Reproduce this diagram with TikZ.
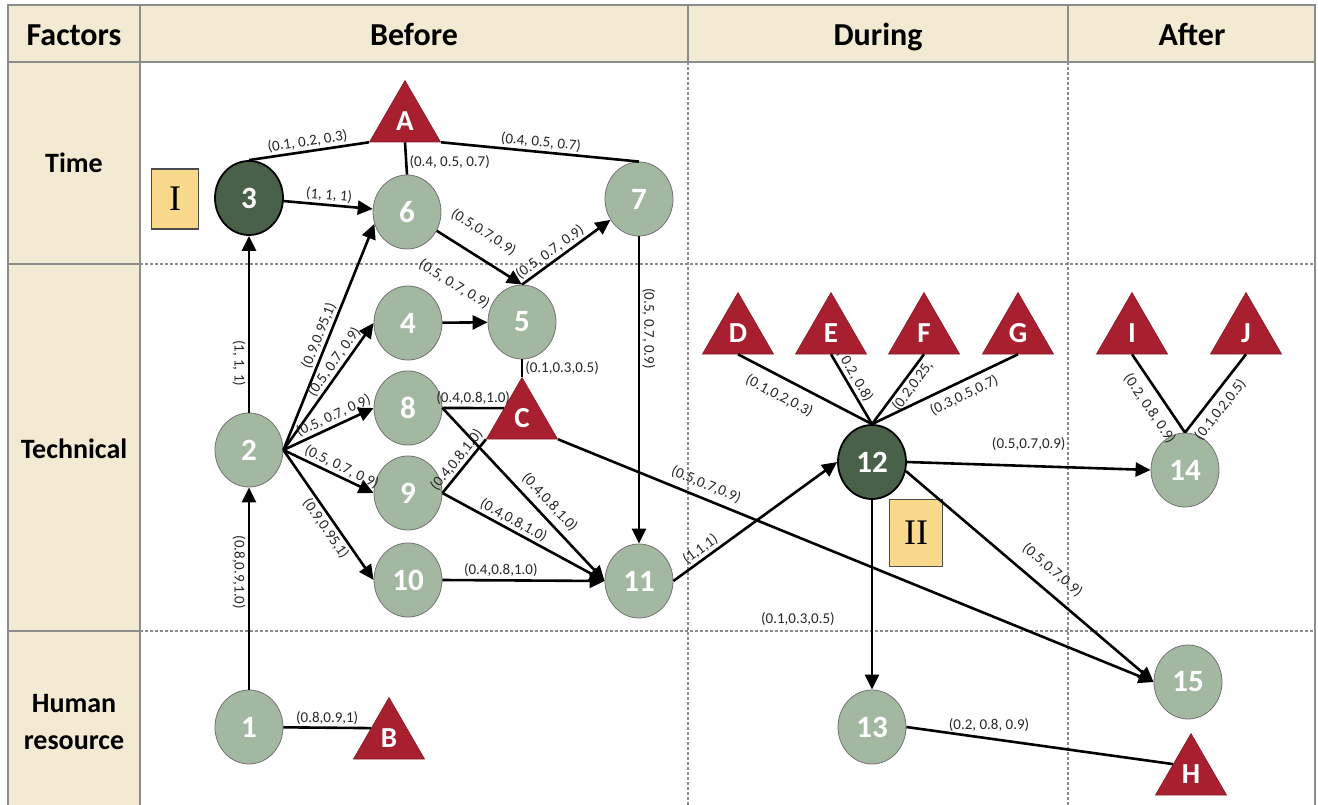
\documentclass[tikz,border=0pt]{standalone}
\usepackage{fontspec}
\setmainfont{Carlito}
\newfontfamily\romanfont{Liberation Serif}
\usepackage{tikz}
\usetikzlibrary{shapes.geometric}
\usetikzlibrary{arrows.meta}
\usetikzlibrary{calc}

\definecolor{headfill}{RGB}{243,234,211}
\definecolor{gridgray}{RGB}{140,140,140}
\definecolor{lightnode}{RGB}{163,184,161}
\definecolor{darknode}{RGB}{74,97,73}
\definecolor{riskred}{RGB}{168,32,48}
\definecolor{boxyellow}{RGB}{249,217,139}

\tikzset{
	event/.style={ellipse, fill=lightnode, draw=black!55, line width=0.8pt, minimum width=68pt, minimum height=74pt, inner sep=0pt, text=white, font=\fontsize{31}{33}\selectfont\bfseries},
	keyevent/.style={event, fill=darknode, draw=black, line width=1.8pt},
	risk/.style={regular polygon, regular polygon sides=3, minimum size=82pt, inner sep=0pt, fill=riskred, draw=riskred!80!black, line width=0.6pt, text=white, font=\fontsize{29}{31}\selectfont\bfseries},
	phasebox/.style={rectangle, fill=boxyellow, draw=black!70, line width=1.2pt, inner sep=0pt, font=\romanfont\fontsize{36}{36}\selectfont},
	link/.style={line width=2.6pt},
	arr/.style={link, -{Triangle[length=15pt, width=14pt]}},
	lbl/.style={font=\fontsize{15}{17}\selectfont, text=black!85, inner sep=2pt},
	cutline/.style={gridgray, line width=1.3pt, dash pattern=on 3pt off 2pt},
	frame/.style={gridgray, line width=1.6pt},
	head/.style={anchor=base, font=\fontsize{32}{34}\selectfont\bfseries},
	rowhead/.style={font=\fontsize{28}{37}\selectfont\bfseries, align=center}
}

\begin{document}
\begin{tikzpicture}[x=1pt, y=-1pt]
	\useasboundingbox (0,0) rectangle (1318,805);
	\fill [headfill] (8,5) rectangle (1315,62);
	\fill [headfill] (8,62) rectangle (140,805);
	\draw [cutline] (140,264) -- (1315,264);
	\draw [cutline] (140,631) -- (1315,631);
	\draw [cutline] (688,62) -- (688,805);
	\draw [cutline] (1068,62) -- (1068,805);
	\draw [frame] (8,805) -- (8,5) -- (1315,5) -- (1315,805);
	\draw [frame] (8,62) -- (1315,62);
	\draw [frame] (140,5) -- (140,805);
	\draw [frame] (688,5) -- (688,62);
	\draw [frame] (1068,5) -- (1068,62);
	\draw [frame] (8,264) -- (140,264);
	\draw [frame] (8,631) -- (140,631);

	\node [head] (hfac) at (74,46) {Factors};
	\node [head] (hbef) at (414,46) {Before};
	\node [head] (hdur) at (878,46) {During};
	\node [head] (haft) at (1192,46) {After};
	\node [rowhead] (rtime) at (74,163) {Time};
	\node [rowhead] (rtech) at (74,449) {Technical};
	\node [rowhead] (rhum) at (74,722) {Human\\resource};

	\node [phasebox, minimum width=47pt, minimum height=60pt] (p1) at (175,199) {I};
	\node [phasebox, minimum width=53pt, minimum height=67pt] (p2) at (916,533) {II};

	\node [keyevent] (n3) at (249,198) {3};
	\node [event] (n6) at (407,212) {6};
	\node [event] (n7) at (639,199) {7};
	\node [event] (n4) at (408,323) {4};
	\node [event] (n5) at (522,322) {5};
	\node [event] (n8) at (408,408) {8};
	\node [event] (n9) at (408,493) {9};
	\node [event] (n10) at (408,580) {10};
	\node [event] (n11) at (639,581) {11};
	\node [event] (n2) at (249,450) {2};
	\node [event] (n1) at (249,727) {1};
	\node [keyevent] (n12) at (872,462) {12};
	\node [event] (n13) at (872,727) {13};
	\node [event] (n14) at (1185,470) {14};
	\node [event] (n15) at (1188,682) {15};

	\node [risk] (rA) at (405,121.5) {A};
	\node [risk] (rB) at (389,738.5) {B};
	\node [risk] (rC) at (522,418.5) {C};
	\node [risk] (rD) at (738,333.5) {D};
	\node [risk] (rE) at (831,333.5) {E};
	\node [risk] (rF) at (924,333.5) {F};
	\node [risk] (rG) at (1018,333.5) {G};
	\node [risk] (rI) at (1132,333.5) {I};
	\node [risk] (rJ) at (1246,333.5) {J};
	\node [risk] (rH) at (1191,774.5) {H};

	\draw [link] (rA.corner 2) -- (n3.north) node [lbl, midway, sloped, above] {(0.1, 0.2, 0.3)};
	\draw [link] (rA.side 2) -- (n6.north) node [lbl, pos=0.6, right] {(0.4, 0.5, 0.7)};
	\draw [link] (rA.corner 3) -- (n7.north) node [lbl, midway, sloped, above] {(0.4, 0.5, 0.7)};
	\draw [arr] (n3) -- (n6) node [lbl, midway, sloped, above] {(1, 1, 1)};
	\draw [arr] (n6) -- (n5.north) node [lbl, pos=0.4, sloped, above=14pt] {(0.5,0.7,0.9)};
	\draw [arr] (n5.north) -- (n7) node [lbl, pos=0.38, sloped, above] {(0.5, 0.7, 0.9)};
	\draw [arr] (n7.south) -- (n11.north) node [lbl, pos=0.3, sloped, above] {(0.5, 0.7, 0.9)};
	\draw [arr] (n2.north) -- (n3.south) node [lbl, pos=0.28, rotate=-90, anchor=north] {(1, 1, 1)};
	\draw [arr] (n1.north) -- (n2.south) node [lbl, pos=0.58, rotate=-90, anchor=north] {(0.8,0.9,1.0)};
	\draw [link] (n1) -- (rB.side 1) node [lbl, midway, above] {(0.8,0.9,1)};
	\draw [arr] (n2.east) -- (n6.200) node [lbl, pos=0.49, sloped, above] {(0.9,0.95,1)};
	\draw [arr] (n2.east) -- (n4.west) node [lbl, pos=0.65, sloped, above] {(0.5, 0.7, 0.9)};
	\draw [arr] (n2.east) -- (n8.west) node [lbl, pos=0.6, sloped, above] {(0.5, 0.7, 0.9)};
	\draw [arr] (n2.east) -- (n9.west) node [lbl, pos=0.6, sloped, above] {(0.5, 0.7, 0.9)};
	\draw [arr] (n2.east) -- (n10.west) node [lbl, pos=0.56, sloped, below] {(0.9,0.95,1)};
	\draw [arr] (n4) -- (n5) node [lbl, pos=0.15, above=30pt, rotate=-32] {(0.5, 0.7, 0.9)};
	\draw [link] (n5.south) -- (rC.corner 1) node [lbl, midway, right] {(0.1,0.3,0.5)};
	\draw [link] (n8.east) -- (rC.side 1) node [lbl, midway, above] {(0.4,0.8,1.0)};
	\draw [arr] (n8.east) -- (n11.west) node [lbl, pos=0.6, sloped, above=4pt] {(0.4,0.8,1.0)};
	\draw [link] (n9.east) -- (rC.corner 2) node [lbl, midway, sloped, above] {(0.4,0.8,1.0)};
	\draw [arr] (n9.east) -- (n11.west) node [lbl, pos=0.41, sloped, above] {(0.4,0.8,1.0)};
	\draw [arr] (n10.east) -- (n11.west) node [lbl, pos=0.36, above] {(0.4,0.8,1.0)};
	\draw [arr] (rC.corner 3) -- (n15.west) node [lbl, pos=0.24, sloped, above=4pt] {(0.5,0.7,0.9)};
	\draw [arr] (n11.east) -- (n12.west) node [lbl, pos=0.2, sloped, above] {(1,1,1)};
	\draw [arr] (n12.south) -- (n13.north) node [lbl, pos=0.63, left=34pt] {(0.1,0.3,0.5)};
	\draw [arr] (n12.east) -- (n14.west) node [lbl, midway, above=12pt] {(0.5,0.7,0.9)};
	\draw [arr] (n12.-15) -- (n15.west) node [lbl, pos=0.54, sloped, above=10pt] {(0.5,0.7,0.9)};
	\draw [link] (n13.east) -- (rH.side 1) node [lbl, pos=0.31, above=4pt] {(0.2, 0.8, 0.9)};
	\draw [link] (rD.side 2) -- (n12.north) node [lbl, pos=0.37, sloped, below=8pt] {(0.1,0.2,0.3)};
	\draw [link] (rE.side 2) -- (n12.north) node [lbl, pos=0.38, sloped, above] {, 0.2, 0.8)};
	\draw [link] (rF.side 2) -- (n12.north) node [lbl, pos=0.37, sloped, below] {(0.2,0.25,};
	\draw [link] (rG.side 2) -- (n12.north) node [lbl, pos=0.41, sloped, below=4pt] {(0.3,0.5,0.7)};
	\draw [link] (rI.side 2) -- (n14.north) node [lbl, pos=0.58, sloped, below=6pt] {(0.2, 0.8, 0.9)};
	\draw [link] (rJ.side 2) -- (n14.north) node [lbl, pos=0.6, sloped, below=4pt] {(0.1,0.2,0.5)};
\end{tikzpicture}
\end{document}
